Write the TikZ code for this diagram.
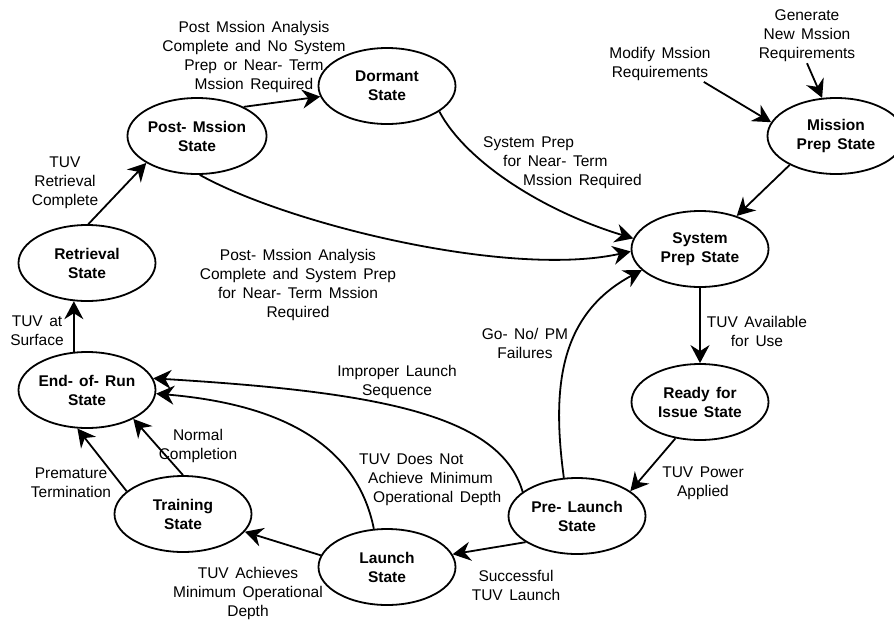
\documentclass[tikz,border=0pt]{standalone}
\usepackage{fontspec}
\setmainfont{Liberation Sans}
\usetikzlibrary{shapes.geometric,arrows.meta}
\newcommand{\mylblfont}{\fontsize{15.5}{19}\selectfont\spaceskip=0.42em\relax}
\newcommand{\mystatefont}{\bfseries\fontsize{15.5}{19}\selectfont\spaceskip=0.4em\relax}
\tikzset{
  state/.style={ellipse, draw, line width=1.8pt, minimum width=137pt, minimum height=76pt,
    inner sep=0pt, align=center, font=\mystatefont},
  lbl/.style={align=center, inner sep=1pt, font=\mylblfont},
  conn/.style={line width=1.8pt, -{Stealth[length=18pt,width=19pt,inset=6pt]}},
}
\begin{document}
\begin{tikzpicture}[x=1pt,y=-1pt]
\useasboundingbox (0,0) rectangle (894,619);
% states
\node[state] (dorm)   at (387,86)  {Dormant\\State};
\node[state] (post)   at (197,136) {Post- Mssion\\State};
\node[state] (retr)   at (87,263)  {Retrieval\\State};
\node[state] (mprep)  at (836,136) {Mission\\Prep State};
\node[state] (sprep)  at (700,249) {System\\Prep State};
\node[state] (ready)  at (700,402) {Ready for\\Issue State};
\node[state] (prel)   at (577,516) {Pre- Launch\\State};
\node[state] (launch) at (387,567) {Launch\\State};
\node[state] (train)  at (183,514) {Training\\State};
\node[state] (eor)    at (87,390)  {End- of- Run\\State};
% labels
\node[lbl] (l1)  at (254,57)  {Post Mssion Analysis\\Complete and No System\\Prep or Near- Term\\Mssion Required};
\node[lbl] (l2)  at (65,183)  {TUV\\Retrieval\\Complete};
\node[lbl] (l3)  at (298,285) {Post- Mssion Analysis\\Complete and System Prep\\for Near- Term Mssion\\Required};
\node[lbl, align=left, anchor=west] (l4) at (482,163) {System Prep\\\hspace*{20pt}for Near- Term\\\hspace*{40pt}Mssion Required};
\node[lbl] (modify) at (660,64) {Modify Mssion\\Requirements};
\node[lbl] (gen)    at (807,36) {Generate\\New Mssion\\Requirements};
\node[lbl] (l7)  at (525,343) {Go- No/ PM\\Failures};
\node[lbl] (l8)  at (757,331) {TUV Available\\for Use};
\node[lbl] (l9)  at (703,483) {TUV Power\\Applied};
\node[lbl] (l10) at (516,585) {Successful\\TUV Launch};
\node[lbl] (l11) at (248,593) {TUV Achieves\\Minimum Operational\\Depth};
\node[lbl, align=left, anchor=west] (l12) at (358,480) {TUV Does Not\\\hspace*{9pt}Achieve Minimum\\\hspace*{14pt}Operational Depth};
\node[lbl] (l13) at (397,382) {Improper Launch\\Sequence};
\node[lbl] (l14) at (198,446) {Normal\\Completion};
\node[lbl] (l15) at (71,483)  {Premature\\Termination};
\node[lbl] (l16) at (37,331)  {TUV at\\Surface};
% connectors
\draw[conn] (post.32) -- (dorm.189);
\draw[conn] (retr.88) -- (post.208);
\draw[conn] (post.274) .. controls (290,225) and (510,278) .. (sprep.182);
\draw[conn] (dorm.-26) .. controls (465,160) and (540,210) .. (sprep.171);
\draw[conn] ([xshift=-8pt]modify.south east) -- (mprep.168);
\draw[conn] (gen.south) -- (mprep.110);
\draw[conn] (mprep.212) -- (sprep.42);
\draw[conn] (prel.109) .. controls (552,390) and (558,315) .. (sprep.200);
\draw[conn] (sprep.south) -- (ready.north);
\draw[conn] (ready.236) -- (prel.25);
\draw[conn] (prel.207) -- (launch.11);
\draw[conn] (launch.170) -- (train.-16);
\draw[conn] (launch.109) .. controls (358,450) and (290,405) .. (eor.-3);
\draw[conn] (prel.156) .. controls (500,415) and (380,392) .. (eor.10);
\draw[conn] (train.90) -- (eor.-32);
\draw[conn] (train.158) -- (eor.256);
\draw[conn] (eor.109) -- (retr.251);
\end{tikzpicture}
\end{document}
